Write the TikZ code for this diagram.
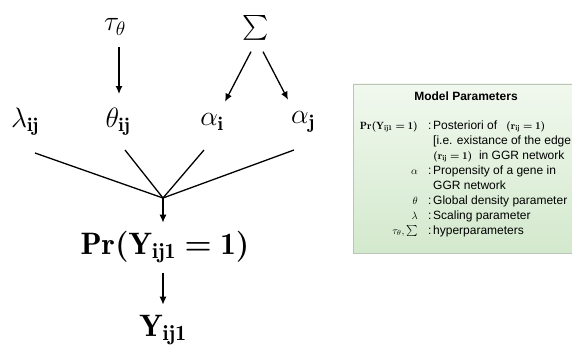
\RequirePackage{fix-cm}
\documentclass[tikz,border=0pt]{standalone}
\usepackage{amsmath}
\usepackage{fontspec}
\newfontfamily\boxfont{Liberation Sans}
\usetikzlibrary{arrows.meta}
\definecolor{boxtop}{HTML}{F1F8EE}
\definecolor{boxbot}{HTML}{D3E9CD}
\definecolor{boxline}{HTML}{BCC4B9}
\newcommand{\keyfont}{\fontsize{10.5}{15}\selectfont}
\newcommand{\prY}{\mathbf{Pr}\boldsymbol{(}\mathbf{Y}_{\mathbf{ij1}}\boldsymbol{=}\mathbf{1}\boldsymbol{)}}
\newcommand{\rone}{{\keyfont$\boldsymbol{(}\mathbf{r}_{\mathbf{ij}}\boldsymbol{=}\mathbf{1}\boldsymbol{)}$}}
\tikzset{
  var/.style={font=\fontsize{28}{34}\selectfont, inner sep=0pt},
  big/.style={font=\fontsize{31}{37}\selectfont, inner sep=0pt},
  link/.style={line width=1.3pt},
  key/.style={anchor=base east, inner sep=0pt, font=\keyfont},
  desc/.style={anchor=base west, inner sep=0pt, font=\boxfont\fontsize{12}{15}\selectfont},
}
\begin{document}
\begin{tikzpicture}[x=1pt, y=-1pt, >={Latex[length=8pt,width=7pt]}]
  \useasboundingbox (0,0) rectangle (572,350);

  % hyperparameters
  \node[var] (tau) at (115,27) {$\tau_\theta$};
  \node[var, font=\fontsize{25}{30}\selectfont] (sig) at (256,28) {$\sum$};

  % parameters
  \node[var] (lam) at (25,122) {$\lambda_{\mathbf{ij}}$};
  \node[var] (theta) at (118,122) {$\theta_{\mathbf{ij}}$};
  \node[var] (ai) at (212,122) {$\alpha_{\mathbf{i}}$};
  \node[var] (aj) at (303,122) {$\alpha_{\mathbf{j}}$};

  % posterior and observation
  \node[big] (post) at (165,247) {$\prY$};
  \node[big] (obs) at (163,330) {$\mathbf{Y}_{\mathbf{ij1}}$};

  \draw[link,->] ([xshift=4pt,yshift=-12pt]tau.south) -- ([xshift=1pt,yshift=14pt]theta.north);
  \draw[link,->] ([xshift=-5pt,yshift=-11pt]sig.south) -- ([xshift=13pt,yshift=12pt]ai.north);
  \draw[link,->] ([xshift=7pt,yshift=-11pt]sig.south) -- ([xshift=-15pt,yshift=12pt]aj.north);

  % lines into the posterior
  \coordinate (join) at (163,198);
  \coordinate (lam-out) at (35,153);
  \coordinate (theta-out) at (125,150);
  \coordinate (ai-out) at (204,150);
  \coordinate (aj-out) at (294,150);
  \foreach \p in {lam,theta,ai,aj}
    \draw[link] (\p-out) -- (join);
  \draw[link,->] (join) -- ([yshift=8pt]post.north -| join);
  \draw[link,->] ([yshift=-10pt]post.south -| obs) -- ([yshift=10pt]obs.north);

  % parameter legend
  \shade[top color=boxtop, bottom color=boxbot] (353,84) rectangle (580,253);
  \draw[boxline, line width=0.8pt] (580,84) -- (353,84) -- (353,253) -- (580,253);
  \node[font=\boxfont\bfseries\fontsize{12}{14}\selectfont] (title) at (466,96) {Model Parameters};
  \node[key] (k1) at (418,129) {$\prY$};
  \node[key] (k2) at (418,174) {$\alpha$};
  \node[key] (k3) at (418,204) {$\theta$};
  \node[key] (k4) at (418,219) {$\lambda$};
  \node[key] (k5) at (418,234) {$\tau_\theta,\sum$};
  \foreach \y in {129,174,204,219,234}
    \node[desc] (colon\y) at (428,\y) {:};
  \node[desc] (d1) at (433,129) {Posteriori of\hspace{9pt}\rone};
  \node[desc] (d2) at (433,144) {[i.e. existance of the edge};
  \node[desc] (d3) at (433,159) {\rone\ \ in GGR network};
  \node[desc] (d4) at (433,174) {Propensity of a gene in};
  \node[desc] (d5) at (433,189) {GGR network};
  \node[desc] (d6) at (433,204) {Global density parameter};
  \node[desc] (d7) at (433,219) {Scaling parameter};
  \node[desc] (d8) at (433,234) {hyperparameters};
\end{tikzpicture}
\end{document}
